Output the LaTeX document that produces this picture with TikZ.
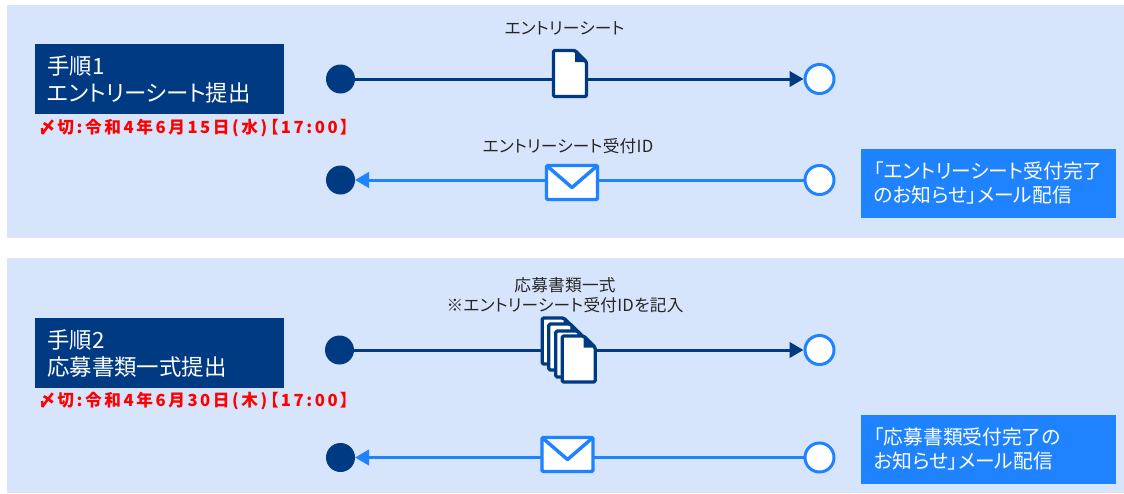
\documentclass[tikz,border=0pt]{standalone}
\usepackage{fontspec}
\setmainfont[RawFeature=+palt]{Noto Sans CJK JP}
\usepackage{xcolor}
\usetikzlibrary{
    arrows.meta,
    positioning
}
\definecolor{panelblue}{HTML}{D6E4FC}
\definecolor{navy}{HTML}{003A82}
\definecolor{skyblue}{HTML}{1F82FF}
\tikzset{%
    >={Triangle[width=11.5pt,length=10.5pt]},
    % Specifications for style of nodes:
    panel/.style = {
        rectangle, fill=panelblue, inner sep=0pt, anchor=north west
    },
    title/.style = {
        rectangle, fill=navy, text=white, anchor=north west,
        minimum width=186.75pt, minimum height=52.5pt,
        inner xsep=9pt, inner ysep=0pt, text width=168.75pt,
        align=left, font=\fontsize{16.8}{20}\selectfont
    },
    notice/.style = {
        rectangle, fill=skyblue, text=white, anchor=north west,
        minimum width=191.25pt, minimum height=51.75pt,
        inner xsep=9.5pt, inner ysep=0pt, text width=172.25pt,
        align=left, font=\fontsize{14.8}{18}\selectfont
    },
    deadline/.style = {
        text=red, anchor=west, inner sep=0pt,
        font=\fontsize{12.5}{14}\selectfont\bfseries\addfontfeature{LetterSpace=15.5}
    },
    label/.style = {
        text=black!85, inner sep=0pt, align=center,
        font=\fontsize{12.5}{15}\selectfont\addfontfeature{LetterSpace=1.5}
    },
    startdot/.style = {
        circle, fill=navy, minimum size=21.75pt, inner sep=0pt, outer sep=0pt
    },
    enddot/.style = {
        circle, fill=white, draw=skyblue, line width=2.25pt,
        minimum size=21.75pt, inner sep=0pt
    },
    sendline/.style = {draw=navy, line width=2.25pt, ->},
    mailline/.style = {draw=skyblue, line width=2.25pt, ->},
    sheeticon/.pic = {
        \draw[fill=white, draw=navy, line width=2.5pt, line join=round, rounded corners=1pt]
            (-16.5,-23) -- (5,-23) -- (16.5,-11.5) -- (16.5,23) -- (-16.5,23) -- cycle;
        \fill[navy] (5,-24) -- (17.5,-11.5) -- (5,-11.5) -- cycle;
    },
    mailicon/.pic = {
        \draw[fill=white, draw=skyblue, line width=2.6pt, rounded corners=1pt]
            (-25.5,-17) rectangle (25.5,17);
        \draw[skyblue, line width=2.6pt, line join=round]
            (-25.5,-17) -- (0,5) -- (25.5,-17);
    }
}

\begin{document}
\begin{tikzpicture}[x=0.75pt, y=-0.75pt]
\useasboundingbox (0,0) rectangle (1124,493);
% Specification of nodes (position, etc.)
\node (panel1)  [panel, minimum width=837.75pt, minimum height=174.4pt] at (7,5) {};
\node (panel2)  [panel, minimum width=837.75pt, minimum height=176.25pt] at (7,258) {};
\node (title1)  [title] at (35,44) {手順1\\エントリーシート提出};
\node (title2)  [title] at (35,318) {手順2\\応募書類一式提出};
\node (limit1)  [deadline] at (39,128) {〆切:令和4年6月15日(水)【17:00】};
\node (limit2)  [deadline] at (39,401) {〆切:令和4年6月30日(木)【17:00】};
\node (notice1) [notice] at (861,148.5) {「エントリーシート受付完了\\のお知らせ」メール配信};
\node (notice2) [notice] at (861,414.5) {「応募書類受付完了の\\お知らせ」メール配信};
\node (sheetlabel)  [label] at (564.5,28.5) {エントリーシート};
\node (idlabel)     [label] at (568,146.5) {エントリーシート受付ID};
\node (setlabel)    [label] at (565,295) {応募書類一式\\※エントリーシート受付IDを記入};
\node (send1)   [startdot] at (340.5,79) {};
\node (recv1)   [enddot] at (819.5,79) {};
\node (back1)   [startdot] at (340.5,180) {};
\node (from1)   [enddot] at (819.5,180) {};
\node (send2)   [startdot] at (339.5,350) {};
\node (recv2)   [enddot] at (819.5,350) {};
\node (back2)   [startdot] at (340.5,457.5) {};
\node (from2)   [enddot] at (819.5,457.5) {};
% Specification of paths
\draw[sendline] (send1) -- (recv1);
\draw[mailline] (from1) -- (back1);
\draw[sendline] (send2) -- (recv2);
\draw[mailline] (from2) -- (back2);
% Icons on the lines
\pic at (570,73.5) {sheeticon};
\pic at (572,182.5) {mailicon};
\pic at (558.7,341) {sheeticon};
\pic at (565.3,347) {sheeticon};
\pic at (572.3,354) {sheeticon};
\pic at (578.7,359) {sheeticon};
\pic at (567.5,454.5) {mailicon};
\end{tikzpicture}
\end{document}
